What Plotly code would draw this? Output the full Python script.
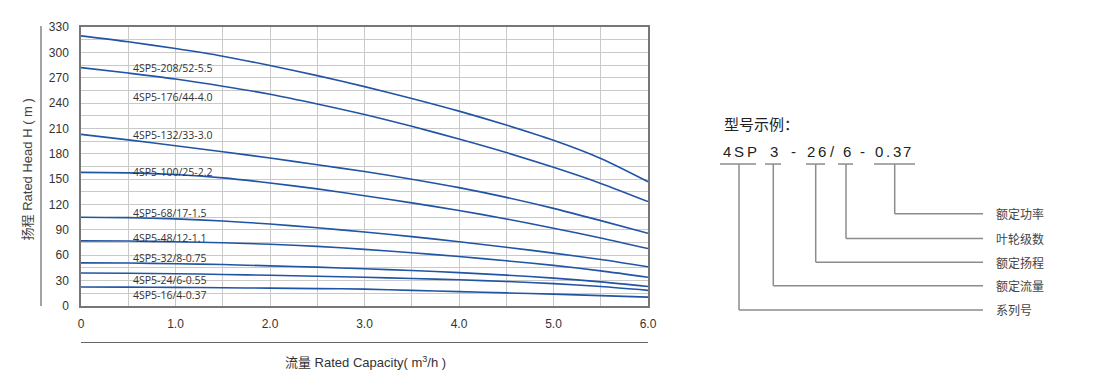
import plotly.graph_objects as go

# ---------------- data ----------------
flow = [0, 0.5, 1.0, 1.5, 2.0, 2.5, 3.0, 3.5, 4.0, 4.5, 5.0, 5.5, 6.0]

models = ["4SP5-208/52-5.5", "4SP5-176/44-4.0", "4SP5-132/33-3.0", "4SP5-100/25-2.2",
          "4SP5-68/17-1.5", "4SP5-48/12-1.1", "4SP5-32/8-0.75", "4SP5-24/6-0.55",
          "4SP5-16/4-0.37"]

head_208 = [319.5, 312.5, 304.5, 295.5, 284.5, 272.5, 259.5, 245.5, 230.5, 214, 196, 174.5, 147]
head_176 = [282, 275.5, 268.5, 260, 250.5, 239, 226.5, 212.5, 197.5, 181.5, 164, 145, 123.5]
head_132 = [203, 196.5, 189.5, 182.5, 175, 167, 159, 150, 140, 128.5, 115.5, 101, 86]
head_100 = [158, 157.5, 155.5, 151.5, 145.5, 138.5, 130.5, 122, 113, 103, 92, 80.5, 68]
head_68 = [105, 104.5, 103, 100.5, 97, 92.5, 87.5, 82, 76, 69.5, 62.5, 55, 46.5]
head_48 = [77, 76.8, 76, 74.8, 73, 70.5, 67, 63, 58.5, 53.5, 48, 41.5, 34]
head_32 = [51, 50.8, 50, 49, 47.5, 46, 44, 42, 39.5, 36.5, 33, 28.5, 23]
head_24 = [39, 38.7, 38.2, 37.3, 36.3, 35.2, 34, 32.6, 31, 29, 26.5, 23, 18.5]
head_16 = [22.5, 22.3, 22, 21.6, 21.1, 20.6, 20, 18.5, 17, 15.5, 14, 12.3, 10.5]

heads = [head_208, head_176, head_132, head_100, head_68, head_48, head_32, head_24, head_16]

# label anchor heads (where model names are written)
label_q = 0.53
label_h = [282, 247, 202.5, 159, 109.5, 81, 56.5, 31, 12.5]

x_ticks = [0, 1, 2, 3, 4, 5, 6]
x_ticktext = ["0", "1.0", "2.0", "3.0", "4.0", "5.0", "6.0"]
y_ticks = [0, 30, 60, 90, 120, 150, 180, 210, 240, 270, 300, 330]

example_title = "型号示例："
example_code = ["4", "S", "P", "3", "-", "2", "6", "/", "6", "-", "0", ".", "3", "7"]
code_labels = ["额定功率", "叶轮级数", "额定扬程", "额定流量", "系列号"]

# ---------------- figure ----------------
# page has an 8px body margin; figure is sized to fit inside the window
OFF = 8
W, H = 1100 - 2 * OFF, 390 - 2 * OFF
L, R, T, B = 81, 648, 23, 306   # plot area in page pixels


def xp(px):
    return (px - L) / (R - L)


def yp(py):
    return (B - py) / (B - T)


fig = go.Figure()
line_color = "#2154a5"
for name, h in zip(models, heads):
    fig.add_trace(go.Scatter(x=flow, y=h, mode="lines", name=name,
                             line=dict(color=line_color, width=1.6, shape="spline", smoothing=0.8),
                             showlegend=False, hoverinfo="skip"))

annotations = []
for name, h in zip(models, label_h):
    annotations.append(dict(x=label_q, y=h, xref="x", yref="y", text=name, showarrow=False,
                            xanchor="left", yanchor="middle",
                            font=dict(family="Open Sans", size=10.5, color="#333")))

# axis titles
annotations.append(dict(x=xp(27), y=yp(167.5), xref="paper", yref="paper",
                        text="扬程 Rated Head H ( m )", textangle=-90, showarrow=False,
                        xanchor="center", yanchor="middle",
                        font=dict(family="Liberation Sans, Noto Sans CJK SC", size=13, color="#444")))
annotations.append(dict(x=xp(365), y=yp(363), xref="paper", yref="paper",
                        text="流量 Rated Capacity( m<sup>3</sup>/h )", showarrow=False,
                        xanchor="center", yanchor="middle",
                        font=dict(family="Liberation Sans, Noto Sans CJK SC", size=13, color="#333")))

# example diagram
annotations.append(dict(x=xp(722), y=yp(121), xref="paper", yref="paper", text=example_title,
                        showarrow=False, xanchor="left", yanchor="middle",
                        font=dict(family="Noto Sans CJK SC", size=15, color="#222")))
code_px = [727, 739, 751.5, 773.5, 793, 811, 822, 832.5, 846.5, 862, 878.5, 888, 897, 907]
for ch, px in zip(example_code, code_px):
    annotations.append(dict(x=xp(px), y=yp(149.5), xref="paper", yref="paper", text=ch,
                            showarrow=False, xanchor="center", yanchor="middle",
                            font=dict(family="Liberation Sans", size=15, color="#222")))

label_py = [212.5, 237.5, 261.5, 285.5, 310]
for lab, py in zip(code_labels, label_py):
    annotations.append(dict(x=xp(994), y=yp(py), xref="paper", yref="paper", text=lab,
                            showarrow=False, xanchor="left", yanchor="middle",
                            font=dict(family="Noto Sans CJK SC", size=12, color="#444")))

shapes = []
gline = dict(color="#8c8c8c", width=1.5)
# underlines
for x0, x1 in [(720, 756), (765, 781), (806, 825), (838, 853), (874, 915)]:
    shapes.append(dict(type="line", xref="paper", yref="paper", x0=xp(x0), x1=xp(x1),
                       y0=yp(162), y1=yp(162), line=gline))
# connectors
for vx, py in zip([894.7, 846, 815.7, 773.3, 739], label_py):
    shapes.append(dict(type="line", xref="paper", yref="paper", x0=xp(vx), x1=xp(vx),
                       y0=yp(162), y1=yp(py), line=gline))
    shapes.append(dict(type="line", xref="paper", yref="paper", x0=xp(vx), x1=xp(983),
                       y0=yp(py), y1=yp(py), line=gline))

# decorative axis-title rules
shapes.append(dict(type="line", xref="paper", yref="paper", x0=xp(41), x1=xp(41),
                   y0=yp(306), y1=yp(22), line=dict(color="#666", width=1.2)))
shapes.append(dict(type="line", xref="paper", yref="paper", x0=xp(81), x1=xp(648),
                   y0=yp(343), y1=yp(343), line=dict(color="#666", width=1.2)))

grid_c = "#c9c9c9"
fig.update_layout(
    width=W, height=H,
    margin=dict(l=L - OFF, r=W - (R - OFF), t=T - OFF, b=H - (B - OFF)),
    paper_bgcolor="white", plot_bgcolor="white",
    xaxis=dict(range=[0, 6], tickvals=x_ticks, ticktext=x_ticktext,
               showgrid=True, gridcolor=grid_c, gridwidth=1,
               minor=dict(dtick=0.5, showgrid=True, gridcolor=grid_c, gridwidth=1),
               showline=True, linecolor="#777", linewidth=1.5, mirror=True,
               zeroline=False, ticks="", ticklabelstandoff=6,
               tickfont=dict(family="Liberation Sans", size=12, color="#333")),
    yaxis=dict(range=[0, 330], tickvals=y_ticks,
               showgrid=True, gridcolor=grid_c, gridwidth=1,
               minor=dict(dtick=15, showgrid=True, gridcolor=grid_c, gridwidth=1),
               showline=True, linecolor="#777", linewidth=1.5, mirror=True,
               zeroline=False, ticks="", ticklabelstandoff=8,
               tickfont=dict(family="Liberation Sans", size=12, color="#333")),
    annotations=annotations,
    shapes=shapes,
)

fig.write_html("out.html")
